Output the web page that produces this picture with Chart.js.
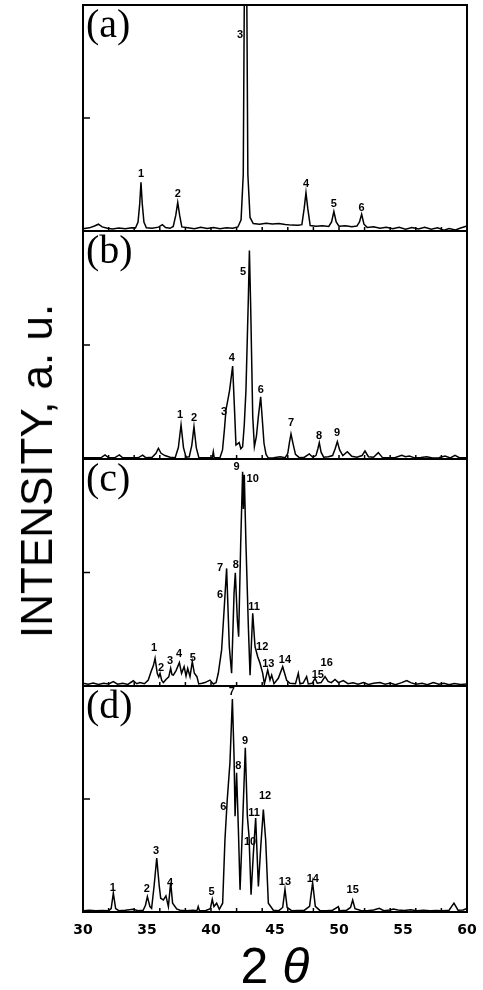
<!DOCTYPE html>
<html>
<head>
<meta charset="utf-8">
<script src="https://cdn.jsdelivr.net/npm/chart.js@4.4.0/dist/chart.umd.min.js"></script>
<style>
  body { margin: 0; background: #fff; width: 483px; height: 990px; position: relative; overflow: hidden; }
  canvas { position: absolute; left: 0; }
  #ylab { position: absolute; left: 37px; top: 471px; transform: translate(-50%, -50%) rotate(-90deg);
          font: 44px "Liberation Sans", Arial, sans-serif; white-space: nowrap; color: #000; }
  #xlab { position: absolute; left: 275px; top: 966px; transform: translate(-50%, -50%);
          font: 50px "Liberation Sans", Arial, sans-serif; white-space: nowrap; color: #000; }
</style>
</head>
<body>
<canvas id="pa" width="483" height="240" style="top:0px"></canvas>
<canvas id="pb" width="483" height="240" style="top:225px"></canvas>
<canvas id="pc" width="483" height="240" style="top:453px"></canvas>
<canvas id="pd" width="483" height="280" style="top:680px"></canvas>
<div id="ylab">INTENSITY, a. u.</div>
<div id="xlab">2 <i>θ</i></div>

<script>
// 2θ (deg) , intensity (a.u., 100 = top of the frame)
const patternA = [
  [30.0,1.0],[30.5,1.4],[30.9,2.2],[31.2,3.0],[31.5,1.8],[31.9,1.2],[32.3,0.9],[32.8,1.3],[33.3,1.0],[33.8,1.4],
  [34.1,1.3],[34.3,4],[34.43,12],[34.53,21.5],[34.63,12],[34.76,4],[34.95,1.4],[35.4,1.2],[35.9,1.7],[36.2,2.8],
  [36.45,1.5],[36.8,1.2],[37.05,2.0],[37.25,7],[37.4,12.6],[37.55,7],[37.72,1.8],[38.2,1.4],[38.7,1.0],[39.2,1.6],
  [39.7,1.1],[40.2,1.5],[40.7,1.0],[41.2,1.4],[41.7,1.2],[42.1,1.8],[42.35,5],[42.52,25],[42.62,120],[42.7,112],
  [42.78,120],[42.88,25],[43.05,6],[43.3,3.3],[43.8,3.0],[44.3,3.4],[44.8,3.1],[45.3,3.3],[45.8,2.9],[46.3,2.6],[46.8,2.5],
  [47.1,2.8],[47.28,10],[47.42,17],[47.56,10],[47.75,2.4],[48.2,2.1],[48.7,2.3],[49.2,2.0],[49.42,4],[49.6,8.6],
  [49.78,4],[50.0,2.1],[50.5,2.3],[51.0,1.9],[51.4,2.2],[51.6,4],[51.77,7.4],[51.95,3],[52.2,1.6],[52.7,1.9],
  [53.2,1.2],[53.7,1.7],[54.2,1.0],[54.7,1.6],[55.2,0.8],[55.7,1.5],[56.2,0.9],[56.7,1.6],[57.2,0.8],[57.7,1.4],
  [58.2,0.4],[58.6,1.1],[59.1,0.5],[59.5,1.3],[60.0,2.2]
];
const patternB = [
  [30.0,0.5],[30.6,0.6],[31.4,0.5],[31.72,1.8],[32.0,0.5],[32.5,0.6],[32.84,1.8],[33.1,0.5],[33.8,0.6],[34.3,0.5],
  [34.66,1.7],[34.9,0.6],[35.4,0.8],[35.7,2.5],[35.89,4.7],[36.1,2.5],[36.4,1.5],[36.8,0.8],[37.2,0.6],[37.45,5],
  [37.66,14.9],[37.85,5],[38.05,0.8],[38.3,1.0],[38.5,6],[38.67,14.2],[38.85,5],[39.05,0.6],[39.6,0.5],[40.1,0.5],
  [40.18,3.2],[40.25,0.6],[40.7,0.6],[40.9,4],[41.05,13],[41.17,21.5],[41.45,30],[41.69,40.8],[41.85,20],[41.95,6.1],
  [42.2,7.2],[42.33,4.5],[42.47,5.4],[42.6,15],[42.73,30],[42.92,71],[43.0,91.4],[43.1,66.8],[43.26,18.6],[43.39,5.4],
  [43.55,10],[43.7,18.6],[43.88,27.3],[44.0,18],[44.14,6.9],[44.3,2.0],[44.48,0.4],[44.9,0.6],[45.4,1.0],[45.8,0.6],
  [46.0,2.5],[46.12,7],[46.25,11],[46.4,7],[46.6,2.0],[46.9,0.6],[47.3,0.8],[47.68,2.2],[47.95,0.8],[48.2,1.5],
  [48.35,4.5],[48.46,7.2],[48.6,3],[48.8,0.8],[49.17,1.0],[49.5,1.5],[49.7,4.5],[49.87,7.6],[50.05,4],[50.3,1.5],
  [50.65,3.2],[51.0,1.2],[51.4,0.8],[51.8,1.5],[52.03,3.5],[52.3,1.0],[52.7,0.8],[53.07,2.8],[53.4,0.6],[53.9,0.5],
  [54.4,0.7],[54.9,1.6],[55.2,1.0],[55.5,1.3],[55.9,0.5],[56.4,0.7],[56.85,1.0],[57.3,0.4],[57.8,0.6],[58.28,1.3],
  [58.7,0.5],[59.06,1.6],[59.4,0.6],[60.0,0.5]
];
const patternC = [
  [30.0,1.2],[30.4,0.8],[30.8,1.3],[31.2,0.7],[31.6,1.2],[32.0,0.9],[32.37,1.9],[32.7,0.8],[33.1,1.2],[33.5,0.7],
  [33.93,2.3],[34.2,1.0],[34.45,1.5],[34.8,1.0],[35.1,2.6],[35.36,7],[35.5,9],[35.63,12.2],[35.8,5.6],[35.92,4],
  [36.02,5.6],[36.15,2.5],[36.28,1.5],[36.5,3],[36.7,4],[36.85,7.8],[36.95,5],[37.06,4.8],[37.27,6.8],[37.53,10.3],
  [37.7,5.6],[37.9,8.5],[38.05,4.4],[38.18,7.8],[38.36,4.1],[38.54,10.7],[38.7,5.6],[38.9,4.1],[39.04,0.9],[39.3,1.2],
  [39.53,1.5],[39.92,2.6],[40.18,0.9],[40.4,1.5],[40.57,5.6],[40.83,15.9],[41.04,35],[41.22,51.8],[41.43,17.3],[41.61,5.6],
  [41.8,40.8],[41.9,49.9],[42.06,29],[42.16,21.7],[42.32,62.8],[42.47,94.4],[42.53,78],[42.6,93],[42.73,62.8],[42.92,26],
  [43.05,4.8],[43.26,32],[43.44,17.3],[43.65,12.9],[43.83,10],[44.04,5.6],[44.17,0.9],[44.43,7],[44.61,2.6],[44.74,4.8],
  [44.92,1.0],[45.26,3.4],[45.6,8.5],[45.91,2.5],[46.17,1.2],[46.6,1.0],[46.82,5.6],[46.95,1.0],[47.2,1.3],[47.47,4.1],
  [47.6,0.9],[47.9,1.2],[48.13,3.4],[48.3,1.2],[48.6,1.5],[48.91,4.1],[49.15,2],[49.4,1.5],[49.69,2.9],[49.95,1.5],
  [50.34,2.4],[50.7,1.0],[51.1,1.4],[51.5,0.8],[51.9,1.5],[52.3,0.7],[52.7,1.2],[53.2,1.5],[53.6,0.8],[54.0,1.3],
  [54.4,0.6],[54.9,1.5],[55.29,2.4],[55.6,1.5],[56.0,0.8],[56.5,1.2],[56.9,0.6],[57.37,1.5],[57.8,0.8],[58.2,1.2],
  [58.6,0.6],[59.0,1.1],[59.5,0.7],[60.0,0.9]
];
const patternD = [
  [30.0,0.6],[30.5,0.8],[31.0,0.5],[31.5,0.7],[32.0,0.6],[32.2,1.5],[32.37,8.3],[32.55,1.5],[32.8,0.6],[33.3,0.8],
  [33.93,1.2],[34.3,0.6],[34.7,0.8],[34.88,3],[35.03,6.8],[35.23,2.4],[35.36,1.6],[35.55,11.3],[35.76,23.9],[35.96,11.3],
  [36.07,6.1],[36.28,5.3],[36.48,7.1],[36.67,2.4],[36.85,13],[37.0,3.9],[37.32,1.4],[37.58,0.8],[38.1,0.6],[38.6,0.8],
  [38.9,0.6],[39.0,2.4],[39.1,0.6],[39.6,0.7],[39.95,1.5],[40.1,5.6],[40.23,2.4],[40.44,3.9],[40.65,1.2],[40.91,3.9],
  [41.09,32],[41.27,49.8],[41.48,66],[41.67,94.2],[41.8,69],[41.88,42.4],[42.0,61.6],[42.14,36.4],[42.27,9.8],[42.47,39.4],
  [42.68,72.7],[42.84,42.4],[42.97,33.5],[43.13,7.6],[43.3,25],[43.49,41.6],[43.7,11.3],[43.9,30],[44.09,45.3],[44.27,32],
  [44.48,3.9],[44.87,0.8],[45.3,0.6],[45.6,2],[45.78,10],[45.95,2],[46.3,0.6],[46.8,0.7],[47.3,0.8],[47.7,2.5],
  [47.94,13],[48.15,2.5],[48.5,0.7],[49.0,0.6],[49.5,0.8],[49.95,2.4],[50.05,0.6],[50.6,0.8],[50.9,2],[51.07,5.3],
  [51.25,1.5],[51.7,0.7],[52.2,0.6],[52.7,0.9],[53.15,1.6],[53.5,0.6],[54.0,0.9],[54.25,1.3],[54.6,0.9],[55.1,0.7],
  [55.6,1.0],[56.1,0.6],[56.6,0.8],[57.1,0.5],[57.6,0.7],[58.1,0.6],[58.6,0.8],[58.98,3.9],[59.3,0.8],[59.7,0.9],
  [60.0,1.6]
];

// where each peak number sits (2θ, intensity); number = index + 1
const peaksA = [[34.53,25.3],[37.4,16.4],[42.27,86.7],[47.42,20.9],[49.6,12],[51.77,10.2]];
const peaksB = [[37.58,19.3],[38.67,18],[41.02,20.6],[41.62,44.4],[42.5,82.1],[43.9,30.3],[46.25,15.8],[48.44,10.1],[49.84,11.5]];
const peaksC = [[35.55,16.7],[36.09,7.9],[36.8,11],[37.5,14.1],[38.57,12.5],[40.7,40.1],[40.7,52],[41.93,53.3],
                [42.0,96.6],[43.26,91.2],[43.36,34.9],[44.0,17.2],[44.48,9.7],[45.78,11.5],[48.34,4.8],[49.04,10.3]];
const peaksD = [[32.32,10.5],[34.98,10.1],[35.7,27.2],[36.8,12.8],[40.05,8.8],[40.96,46.4],[41.62,97.2],[42.13,64.6],
                [42.66,75.7],[43.05,30.8],[43.36,43.9],[44.22,51.2],[45.78,13.2],[47.95,14.7],[51.07,9.8]];

const panelTags = ['(a)', '(b)', '(c)', '(d)'];
const minorTicks = [32, 34, 36, 38, 40, 42, 44, 46, 48, 50, 52, 54, 56, 58];
const midTick = 50;

// frame, inward ticks, panel letter and peak numbers
const framePlugin = {
  id: 'frame',
  afterDatasetsDraw(chart, args, opts) {
    const ctx = chart.ctx, a = chart.chartArea, x = chart.scales.x, y = chart.scales.y;
    ctx.save();
    ctx.strokeStyle = '#000';
    ctx.lineWidth = 2;
    ctx.strokeRect(a.left, a.top, a.right - a.left, a.bottom - a.top);
    ctx.lineWidth = 1.5;
    ctx.beginPath();
    const yt = y.getPixelForValue(midTick);
    ctx.moveTo(a.left, yt); ctx.lineTo(a.left + 7, yt);
    minorTicks.forEach(t => {
      const px = x.getPixelForValue(t);
      ctx.moveTo(px, a.bottom); ctx.lineTo(px, a.bottom - 4);
    });
    ctx.stroke();
    ctx.fillStyle = '#000';
    ctx.font = '40px "Liberation Serif", "Times New Roman", serif';
    ctx.textAlign = 'left';
    ctx.textBaseline = 'alphabetic';
    ctx.fillText(opts.tag, a.left + 3, a.top + 32);
    ctx.font = 'bold 11px "Liberation Sans", Arial, sans-serif';
    ctx.textAlign = 'center';
    ctx.textBaseline = 'middle';
    opts.peaks.forEach((p, i) => {
      ctx.fillText(String(i + 1), x.getPixelForValue(p[0]), y.getPixelForValue(p[1]));
    });
    ctx.restore();
  }
};

function makePanel(id, pattern, peaks, tag, pad, withAxis) {
  const xScale = {
    type: 'linear', min: 30, max: 60, display: withAxis,
    grid: { display: false, drawTicks: false },
    border: { display: false },
    ticks: { stepSize: 5, color: '#000', padding: 10,
             font: { family: '"DejaVu Sans", sans-serif', size: 14, weight: 'bold' } }
  };
  if (withAxis) {
    xScale.afterFit = s => { s.height = 48; s.paddingLeft = 0; s.paddingRight = 0; };
  }
  return new Chart(document.getElementById(id), {
    type: 'line',
    data: {
      datasets: [{
        data: pattern.map(p => ({ x: p[0], y: p[1] })),
        borderColor: '#000', borderWidth: 1.5, pointRadius: 0, tension: 0, fill: false
      }]
    },
    options: {
      responsive: false, animation: false, events: [],
      layout: { padding: pad },
      scales: {
        x: xScale,
        y: { type: 'linear', min: 0, max: 100, display: false }
      },
      plugins: { legend: { display: false }, tooltip: { enabled: false }, frame: { tag: tag, peaks: peaks } }
    },
    plugins: [framePlugin]
  });
}

makePanel('pa', patternA, peaksA, panelTags[0], { left: 83, right: 16, top: 5, bottom: 9 }, false);
makePanel('pb', patternB, peaksB, panelTags[1], { left: 83, right: 16, top: 6, bottom: 6 }, false);
makePanel('pc', patternC, peaksC, panelTags[2], { left: 83, right: 16, top: 6, bottom: 7 }, false);
makePanel('pd', patternD, peaksD, panelTags[3], { left: 83, right: 16, top: 6, bottom: 0 }, true);
</script>
</body>
</html>
